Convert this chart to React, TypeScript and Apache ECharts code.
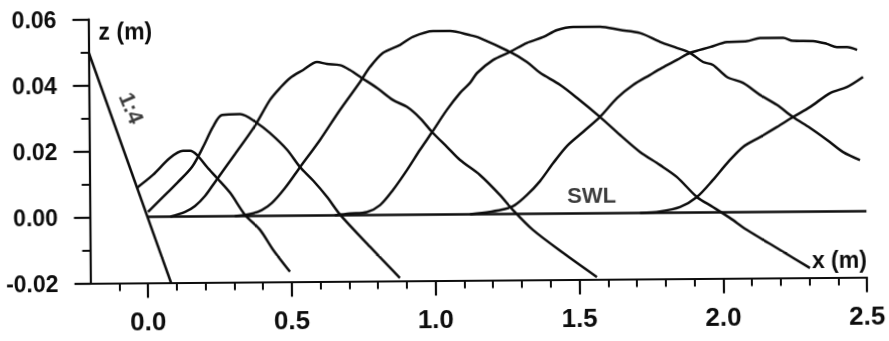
import React, { useEffect, useRef } from "react";
import * as echarts from "echarts";

// ---- data ----
const xMajorTicks = [0, 0.5, 1.0, 1.5, 2.0, 2.5];
const xMinorTicks = [-0.1, 0.1, 0.2, 0.3, 0.4, 0.6, 0.7, 0.8, 0.9, 1.1, 1.2, 1.3, 1.4, 1.6, 1.7, 1.8, 1.9, 2.1, 2.2, 2.3, 2.4];

const beachSlope: [number, number][] = [[-0.2, 0.05], [0.08, -0.02]];
const stillWaterLevel: [number, number][] = [[0, 0], [2.5, 0]];

const profile1: [number, number][] = [
  [-0.035, 0.0089], [0.02, 0.0127], [0.08, 0.0178], [0.125, 0.0199], [0.15, 0.0199], [0.174, 0.0186],
  [0.208, 0.015], [0.243, 0.0116], [0.288, 0.0071], [0.339, 0.0004], [0.391, -0.0042], [0.436, -0.0103], [0.494, -0.017],
];
const profile2: [number, number][] = [
  [0.002, 0.0015], [0.055, 0.006], [0.104, 0.0102], [0.156, 0.015], [0.195, 0.021], [0.23, 0.0271], [0.262, 0.0307],
  [0.325, 0.0309], [0.383, 0.0282], [0.428, 0.0251], [0.487, 0.02], [0.532, 0.0147], [0.577, 0.0106], [0.625, 0.0056],
  [0.67, 0.0002], [0.773, -0.0096], [0.876, -0.0191],
];
const profile3: [number, number][] = [
  [0.08, 0.0], [0.131, 0.0014], [0.166, 0.0032], [0.201, 0.0062], [0.236, 0.0104], [0.306, 0.0188], [0.376, 0.0273],
  [0.429, 0.0351], [0.464, 0.0387], [0.499, 0.0417], [0.545, 0.0441], [0.594, 0.0465], [0.628, 0.0459], [0.674, 0.0455],
  [0.708, 0.044], [0.75, 0.0415], [0.802, 0.0385], [0.857, 0.0348], [0.905, 0.0327], [0.95, 0.0293], [0.992, 0.025],
  [1.043, 0.0205], [1.088, 0.0165], [1.157, 0.0119], [1.226, 0.0058], [1.271, 0.0012], [1.34, -0.0049], [1.444, -0.0119],
  [1.561, -0.0193],
];
const profile4: [number, number][] = [
  [0.304, 0.0], [0.357, 0.0006], [0.398, 0.0018], [0.433, 0.0039], [0.479, 0.0084], [0.532, 0.0147], [0.602, 0.0229],
  [0.672, 0.0319], [0.743, 0.0404], [0.778, 0.0449], [0.823, 0.0491], [0.883, 0.0515], [0.928, 0.0539], [0.998, 0.0556],
  [1.057, 0.0556], [1.126, 0.0543], [1.161, 0.0534], [1.265, 0.0491], [1.324, 0.046], [1.369, 0.0427], [1.438, 0.039],
  [1.497, 0.035], [1.576, 0.0292], [1.645, 0.0237], [1.714, 0.0185], [1.783, 0.0145], [1.842, 0.0108], [1.911, 0.0047],
  [1.967, 0.0016], [2.025, -0.0017], [2.084, -0.0054], [2.198, -0.0115], [2.302, -0.0171],
];
const profile5: [number, number][] = [
  [0.652, 0.0], [0.704, 0.0005], [0.763, 0.0009], [0.809, 0.003], [0.854, 0.0075], [0.904, 0.0136], [0.949, 0.0196],
  [0.992, 0.025], [1.044, 0.0317], [1.09, 0.0368], [1.125, 0.0398], [1.15, 0.0428], [1.206, 0.0467], [1.265, 0.0491],
  [1.324, 0.0518], [1.38, 0.0535], [1.429, 0.0556], [1.485, 0.0565], [1.579, 0.0565], [1.648, 0.0555], [1.718, 0.0545],
  [1.787, 0.0518], [1.846, 0.0499], [1.891, 0.0484], [1.936, 0.0456], [1.97, 0.0447], [2.019, 0.041], [2.074, 0.0392],
  [2.133, 0.0355], [2.192, 0.0324], [2.247, 0.0287], [2.306, 0.0254], [2.365, 0.0217], [2.42, 0.018], [2.479, 0.0155],
];
const profile6: [number, number][] = [
  [1.122, 0.0], [1.191, 0.0007], [1.243, 0.0015], [1.278, 0.0027], [1.32, 0.0057], [1.366, 0.0099], [1.412, 0.0153],
  [1.461, 0.0205], [1.517, 0.0247], [1.576, 0.0292], [1.636, 0.0349], [1.692, 0.0388], [1.751, 0.0418], [1.793, 0.0439],
  [1.846, 0.0463], [1.891, 0.0484], [1.961, 0.0501], [2.02, 0.0516], [2.089, 0.0518], [2.135, 0.0527], [2.215, 0.0527],
  [2.249, 0.0518], [2.319, 0.0517], [2.367, 0.0508], [2.402, 0.0498], [2.437, 0.0498], [2.472, 0.0489],
];
const profile7: [number, number][] = [
  [1.713, 0.0], [1.782, 0.0004], [1.852, 0.0017], [1.911, 0.0047], [1.967, 0.0098], [2.017, 0.0149], [2.073, 0.0198],
  [2.132, 0.0227], [2.191, 0.0257], [2.247, 0.0287], [2.307, 0.0317], [2.377, 0.0359], [2.436, 0.0377], [2.492, 0.0407],
];

const profiles = [profile1, profile2, profile3, profile4, profile5, profile6, profile7];

const slopeLabel = "1:4";
const swlLabel = "SWL";
const xName = "x (m)";
const zName = "z (m)";

const FONT = '"Liberation Sans", Arial, Helvetica, sans-serif';
const INK = "#0d0d0d";

export default function App() {
  const ref = useRef<HTMLDivElement>(null);

  useEffect(() => {
    document.body.style.margin = "0";
    const chart = echarts.init(ref.current as HTMLDivElement, null, { renderer: "svg" });

    const line = (data: [number, number][], width: number, smooth: number | boolean) => ({
      type: "line",
      data,
      xAxisIndex: 0,
      yAxisIndex: 0,
      symbol: "none",
      showSymbol: false,
      smooth,
      silent: true,
      lineStyle: { color: INK, width },
      z: 3,
    });

    const textMark = (text: string, pos: [number, number], rotate: number, size: number) => ({
      type: "scatter",
      data: [pos],
      xAxisIndex: 0,
      yAxisIndex: 0,
      symbolSize: 0,
      silent: true,
      z: 5,
      label: {
        show: true,
        position: "inside",
        formatter: text,
        rotate,
        color: INK,
        fontFamily: FONT,
        fontSize: size,
        fontWeight: "bold",
      },
    });

    chart.setOption({
      animation: false,
      backgroundColor: "#ffffff",
      grid: {
        left: 89.6,
        right: 22.9,
        top: 16.5,
        bottom: 60.5,
        containLabel: false,
        outerBoundsMode: "none",
      },
      xAxis: [
        {
          type: "value",
          min: -0.2,
          max: 2.5,
          position: "bottom",
          name: xName,
          nameLocation: "end",
          nameGap: 0,
          nameTextStyle: {
            align: "right",
            verticalAlign: "bottom",
            padding: [0, 0, 6, 0],
            color: INK,
            fontFamily: FONT,
            fontSize: 23,
            fontWeight: "bold",
          },
          axisLine: { show: true, onZero: false, lineStyle: { color: INK, width: 2.2 } },
          axisTick: { show: true, length: 15, customValues: xMajorTicks, lineStyle: { color: INK, width: 2.2 } },
          axisLabel: {
            show: true,
            customValues: xMajorTicks,
            formatter: (v: number) => v.toFixed(1),
            margin: 25,
            color: INK,
            fontFamily: FONT,
            fontSize: 26,
            fontWeight: "bold",
          },
          splitLine: { show: false },
        },
        {
          type: "value",
          min: -0.2,
          max: 2.5,
          position: "bottom",
          axisLine: { show: false, onZero: false },
          axisTick: { show: true, length: 8, customValues: xMinorTicks, lineStyle: { color: INK, width: 2 } },
          axisLabel: { show: false },
          splitLine: { show: false },
        },
      ],
      yAxis: {
        type: "value",
        min: -0.02,
        max: 0.06,
        interval: 0.02,
        name: zName,
        nameLocation: "end",
        nameGap: -12,
        nameTextStyle: {
          align: "left",
          verticalAlign: "middle",
          padding: [0, 0, 0, 10],
          color: INK,
          fontFamily: FONT,
          fontSize: 23,
          fontWeight: "bold",
        },
        axisLine: { show: true, onZero: false, lineStyle: { color: INK, width: 2.2 } },
        axisTick: { show: true, length: 16, lineStyle: { color: INK, width: 2.2 } },
        minorTick: { show: true, splitNumber: 2, length: 8, lineStyle: { color: INK, width: 2 } },
        axisLabel: {
          formatter: (v: number) => v.toFixed(2),
          margin: 32,
          color: INK,
          fontFamily: FONT,
          fontSize: 23,
          fontWeight: "bold",
        },
        splitLine: { show: false },
        minorSplitLine: { show: false },
      },
      series: [
        line(beachSlope, 2.5, false),
        line(stillWaterLevel, 2.3, false),
        ...profiles.map((p) => line(p, 2.5, 0.3)),
        textMark(swlLabel, [1.545, 0.0055], 0, 22),
        textMark(slopeLabel, [-0.053, 0.033], -68, 22),
      ],
    });

    return () => chart.dispose();
  }, []);

  return (
    <div
      ref={ref}
      style={{
        position: "fixed",
        left: 0,
        top: 0,
        width: 889,
        height: 341,
        background: "#ffffff",
        transform: "rotate(-0.45deg)",
      }}
    />
  );
}
